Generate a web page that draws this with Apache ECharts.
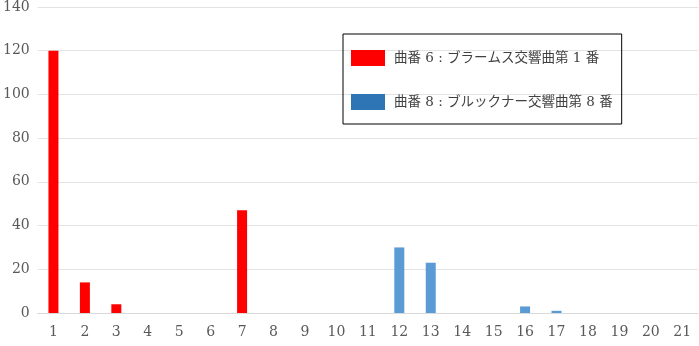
<!DOCTYPE html>
<html><head><meta charset="utf-8">
<script src="https://cdn.jsdelivr.net/npm/echarts@6/dist/echarts.min.js"></script>
<style>html,body{margin:0;padding:0;background:#fff}#c{width:699px;height:346px}</style>
</head><body><div id="c"></div>
<script>
const categories = ['1','2','3','4','5','6','7','8','9','10','11','12','13','14','15','16','17','18','19','20','21'];
const seriesNames = ['曲番 6 : ブラームス交響曲第 1 番', '曲番 8 : ブルックナー交響曲第 8 番'];
const brahms = [120, 14, 4, 0, 0, 0, 47, 0, 0, 0, 0, 0, 0, 0, 0, 0, 0, 0, 0, 0, 0];
const bruckner = [0, 0, 0, 0, 0, 0, 0, 0, 0, 0, 0, 30, 23, 0, 0, 3, 1, 0, 0, 0, 0];
const yTicks = { min: 0, max: 140, interval: 20 };

const chart = echarts.init(document.getElementById('c'), null, { renderer: 'canvas' });
const font = "'DejaVu Serif', 'Noto Sans CJK JP', serif";
chart.setOption({
  animation: false,
  backgroundColor: '#fff',
  grid: { left: 35, right: 1, top: 4, bottom: 33, containLabel: false },
  xAxis: {
    type: 'category', data: categories,
    axisLine: { lineStyle: { color: '#d9d9d9' } },
    axisTick: { show: false },
    axisLabel: { color: '#595959', fontFamily: font, fontSize: 14, margin: 12 }
  },
  yAxis: {
    type: 'value', min: yTicks.min, max: yTicks.max, interval: yTicks.interval,
    axisLine: { show: false }, axisTick: { show: false },
    splitLine: { lineStyle: { color: '#e3e3e3' } },
    axisLabel: { color: '#595959', fontFamily: font, fontSize: 14, margin: 8 }
  },
  legend: {
    orient: 'vertical', left: 343, top: 34,
    padding: [16, 9, 14, 8],
    itemWidth: 34, itemHeight: 16, itemGap: 28,
    icon: 'rect',
    borderColor: '#000', borderWidth: 1,
    textStyle: { color: '#404040', fontFamily: font, fontSize: 13.5, padding: [0, 0, 0, 4] },
    data: [
      { name: seriesNames[0], itemStyle: { color: '#ff0000' } },
      { name: seriesNames[1], itemStyle: { color: '#2e75b6' } }
    ]
  },
  series: [
    { name: seriesNames[0], type: 'bar', stack: 's', data: brahms, barWidth: 10, itemStyle: { color: '#ff0000' } },
    { name: seriesNames[1], type: 'bar', stack: 's', data: bruckner, barWidth: 10, itemStyle: { color: '#5b9bd5' } }
  ]
});
</script></body></html>
